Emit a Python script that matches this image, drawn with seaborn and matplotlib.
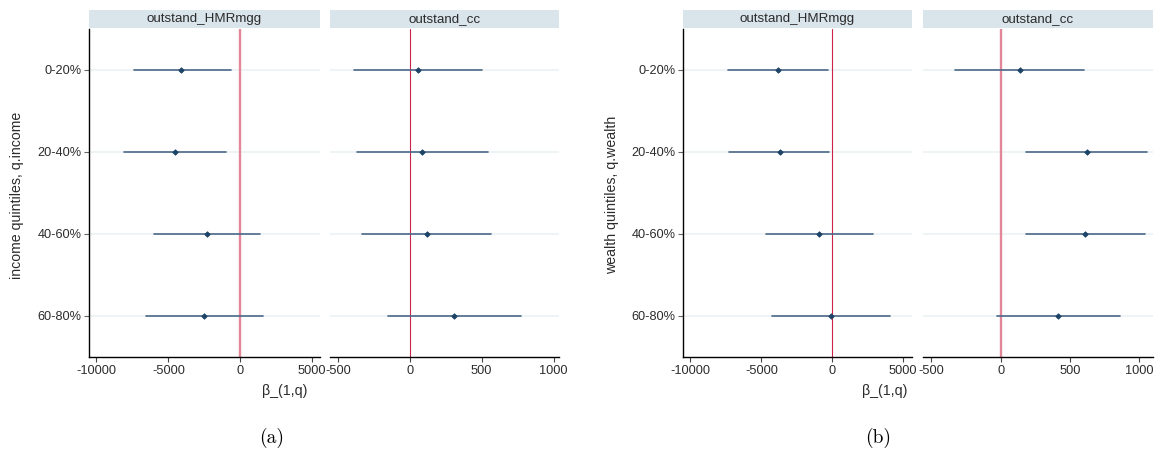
import numpy as np
import pandas as pd
import matplotlib
matplotlib.use("Agg")
import matplotlib.pyplot as plt
from matplotlib.patches import Rectangle
import seaborn as sns

# Quintile coefficient estimates with confidence bounds
quintiles = ["0-20%", "20-40%", "40-60%", "60-80%"]
outcomes = ["outstand_HMRmgg", "outstand_cc"]

income_hmr_est = [-4090, -4510, -2310, -2510]
income_hmr_lo = [-7410, -8110, -5990, -6530]
income_hmr_hi = [-670, -980, 1370, 1610]

income_cc_est = [56, 87, 120, 308]
income_cc_lo = [-385, -364, -331, -154]
income_cc_hi = [500, 541, 564, 777]

wealth_hmr_est = [-3830, -3700, -910, -80]
wealth_hmr_lo = [-7330, -7250, -4640, -4280]
wealth_hmr_hi = [-290, -210, 2900, 4070]

wealth_cc_est = [137, 621, 613, 417]
wealth_cc_lo = [-331, 185, 180, -24]
wealth_cc_hi = [600, 1057, 1043, 860]

hmr_ticks = [-10000, -5000, 0, 5000]
cc_ticks = [-500, 0, 500, 1000]

sns.set_style("ticks")
plt.rcParams["font.family"] = ["Liberation Sans", "DejaVu Sans"]
plt.rcParams["axes.unicode_minus"] = False

W, H = 1157, 463
fig = plt.figure(figsize=(W / 100, H / 100), dpi=100)

POINT_COLOR = "#1d4466"
ERR_COLOR = "#4a6889"
STRIP_COLOR = "#d9e4eb"
TEXT_COLOR = "#2b2b2b"
TICK_SIZE = 9.2
STRIP_SIZE = 9.6
TITLE_SIZE = 10.2


def long_table(est, lo, hi):
    rows = []
    for q, e, l, h in zip(quintiles, est, lo, hi):
        for v in (l, e, h):
            rows.append({"quintile": q, "beta": v})
    return pd.DataFrame(rows)


def panel_axes(x0, x1, y0=29, y1=357):
    return fig.add_axes([x0 / W, 1 - y1 / H, (x1 - x0) / W, (y1 - y0) / H])


def draw_panel(ax, table, title, xlim, ticks, first, zero_style):
    ax.axvline(0, zorder=1, **zero_style)
    sns.pointplot(
        data=table, x="beta", y="quintile", order=quintiles,
        estimator="median", errorbar=("pi", 100),
        linestyle="none", marker="D", markersize=2.8, markeredgewidth=0.6,
        color=POINT_COLOR, capsize=0,
        err_kws={"color": ERR_COLOR, "linewidth": 1.2, "zorder": 2},
        zorder=3, ax=ax,
    )
    ax.set_xlim(*xlim)
    ax.set_xticks(ticks)
    ax.set_xticklabels([str(t) for t in ticks])
    ax.set_xlabel("")
    ax.set_ylabel("")
    ax.yaxis.grid(True, color="#edf2f5", linewidth=1.3, zorder=0)
    ax.set_axisbelow(True)
    for s in ("top", "right"):
        ax.spines[s].set_visible(False)
    ax.spines["bottom"].set_color("black")
    ax.spines["bottom"].set_linewidth(1.0)
    ax.tick_params(axis="x", length=3.5, width=0.8, color="#444444",
                   labelsize=TICK_SIZE, labelcolor=TEXT_COLOR, pad=2)
    if first:
        ax.spines["left"].set_color("black")
        ax.spines["left"].set_linewidth(1.0)
        ax.tick_params(axis="y", length=3.5, width=0.8, color="#666666",
                       labelsize=TICK_SIZE, labelcolor=TEXT_COLOR, pad=2)
    else:
        ax.spines["left"].set_visible(False)
        ax.tick_params(axis="y", left=False, labelleft=False)
    # facet strip
    ax.add_patch(Rectangle((0, 1.003), 1, 0.055, transform=ax.transAxes,
                           facecolor=STRIP_COLOR, edgecolor="none",
                           clip_on=False))
    ax.text(0.5, 1.031, title, transform=ax.transAxes, ha="center",
            va="center", fontsize=STRIP_SIZE, color=TEXT_COLOR)


thick_zero = {"color": "#e4869a", "linewidth": 1.7}
thin_zero = {"color": "#cc2449", "linewidth": 0.8}

# (a) income quintiles
a1 = panel_axes(89, 320)
draw_panel(a1, long_table(income_hmr_est, income_hmr_lo, income_hmr_hi),
           outcomes[0], (-10520, 5540), hmr_ticks, True, thick_zero)
a2 = panel_axes(330, 559)
draw_panel(a2, long_table(income_cc_est, income_cc_lo, income_cc_hi),
           outcomes[1], (-554, 1038), cc_ticks, False, thin_zero)

# (b) wealth quintiles
b1 = panel_axes(683, 912)
draw_panel(b1, long_table(wealth_hmr_est, wealth_hmr_lo, wealth_hmr_hi),
           outcomes[0], (-10520, 5620), hmr_ticks, True, thin_zero)
b2 = panel_axes(923, 1153)
draw_panel(b2, long_table(wealth_cc_est, wealth_cc_lo, wealth_cc_hi),
           outcomes[1], (-561, 1101), cc_ticks, False, thick_zero)

# axis titles and sub-figure captions
fig.text(17 / W, 1 - 195 / H, "income quintiles, q.income", rotation=90,
         ha="center", va="center", fontsize=TITLE_SIZE, color=TEXT_COLOR)
fig.text(612 / W, 1 - 195 / H, "wealth quintiles, q.wealth", rotation=90,
         ha="center", va="center", fontsize=TITLE_SIZE, color=TEXT_COLOR)
fig.text(285 / W, 1 - 391 / H, "β_(1,q)", ha="center", va="center",
         fontsize=TITLE_SIZE, color=TEXT_COLOR)
fig.text(885 / W, 1 - 391 / H, "β_(1,q)", ha="center", va="center",
         fontsize=TITLE_SIZE, color=TEXT_COLOR)
fig.text(272 / W, 1 - 438 / H, "(a)", ha="center", va="center",
         fontsize=14, family="cmr10", color="black")
fig.text(878 / W, 1 - 438 / H, "(b)", ha="center", va="center",
         fontsize=14, family="cmr10", color="black")

fig.savefig("out.png", dpi=100, facecolor="white")
